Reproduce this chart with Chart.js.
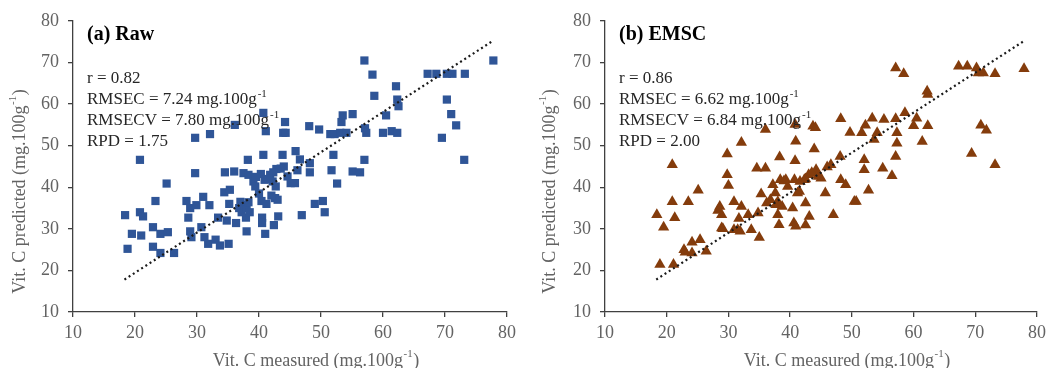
<!DOCTYPE html>
<html>
<head>
<meta charset="utf-8">
<script src="https://cdn.jsdelivr.net/npm/chart.js@4"></script>
<style>
  html, body { margin: 0; padding: 0; background: #fff; }
  #wrap { position: relative; width: 1051px; height: 368px; overflow: hidden; }
  .panel { position: absolute; top: 0; height: 368px; }
  #left { left: 0; width: 525px; }
  #right { left: 530px; width: 521px; }
</style>
</head>
<body>
<div id="wrap">
  <div class="panel" id="left"><canvas id="rawChart"></canvas></div>
  <div class="panel" id="right"><canvas id="emscChart"></canvas></div>
</div>
<script>
// measured vs predicted
const rawMeasured = [18.4, 18.8, 19.5, 20.8, 20.8, 21.3, 21.0, 22.9, 22.9, 23.3, 24.1, 24.1, 25.3, 25.1, 26.3,
  28.3, 28.6, 28.9, 28.9, 29.1, 29.7, 29.7, 29.9, 30.7, 31.0, 31.2, 31.8, 32.0, 32.1, 33.0, 33.4, 33.7,
  34.4, 34.5, 34.8, 35.1, 35.2, 35.3, 36.0, 36.1, 36.3, 36.8, 37.2, 37.5, 37.7, 38.0, 37.9, 38.0, 38.2,
  38.3, 38.3, 38.5, 39.1, 39.4, 40.3, 40.4, 40.5, 40.5, 40.7, 40.7, 40.9, 41.0, 41.1, 41.2, 41.8, 42.2,
  42.4, 42.6, 42.7, 42.8, 43.1, 43.0, 43.8, 43.9, 44.2, 44.3, 44.0, 44.6, 45.1, 45.9, 45.8, 46.2, 46.6,
  46.9, 48.1, 48.2, 48.2, 49.0, 49.7, 50.3, 50.6, 51.5, 51.7, 52.0, 52.2, 52.6, 53.1, 53.3, 53.5, 54.1,
  55.1, 55.1, 56.3, 57.0, 57.0, 57.1, 57.3, 58.3, 58.6, 60.0, 60.5, 61.4, 62.1, 62.3, 62.5, 62.3, 67.2,
  68.6, 70.3, 71.2, 73.2, 70.3, 71.0, 71.8, 69.5, 73.1, 77.8, 39.5, 40.0, 42.0, 43.5, 37.0, 42.3, 41.5];
const rawPredicted = [33.3, 25.2, 28.8, 46.6, 34.0, 33.0, 28.4, 30.4, 25.7, 36.7, 28.8, 24.2, 29.2, 40.9, 24.2,
  36.7, 32.7, 35.0, 29.4, 28.0, 51.9, 43.4, 35.7, 30.4, 37.7, 28.0, 26.4, 35.7, 52.8, 27.4, 32.7, 26.0,
  38.8, 43.6, 32.0, 26.4, 36.0, 39.4, 43.8, 55.0, 31.4, 35.0, 34.0, 43.4, 35.7, 35.0, 32.7, 29.4, 46.6,
  43.0, 36.4, 34.0, 41.4, 40.2, 43.2, 36.7, 32.7, 31.4, 57.9, 47.8, 41.8, 28.8, 53.5, 36.0, 43.0, 41.4,
  30.9, 37.4, 40.2, 44.4, 33.0, 37.0, 47.8, 53.1, 55.7, 53.1, 45.0, 42.6, 41.0, 48.7, 41.0, 44.1, 46.7,
  33.3, 54.7, 45.8, 43.6, 36.0, 53.9, 36.7, 34.0, 52.8, 44.1, 47.8, 52.8, 40.9, 53.1, 55.7, 57.3, 53.1,
  57.6, 43.8, 43.6, 70.5, 46.6, 54.2, 53.1, 67.1, 62.0, 53.1, 57.3, 53.5, 64.3, 61.1, 59.5, 53.1, 67.3,
  67.3, 67.3, 67.3, 67.3, 61.1, 57.6, 54.9, 51.9, 46.6, 70.5, 42.5, 38.5, 38.0, 44.5, 36.5, 43.6, 42.0];

const emscMeasured = [18.4, 18.9, 19.5, 20.9, 20.9, 21.1, 21.3, 22.8, 23.0, 23.5, 24.1, 24.1, 25.1, 25.4, 26.4,
  28.3, 28.6, 28.9, 28.9, 29.1, 29.8, 29.8, 30.0, 30.9, 30.9, 31.5, 31.7, 31.9, 32.1, 32.1, 33.2, 33.7,
  34.6, 34.8, 35.0, 35.3, 36.0, 36.0, 36.2, 36.8, 37.2, 37.6, 37.7, 38.0, 38.2, 38.3, 38.4, 38.7, 39.3,
  39.6, 40.4, 40.6, 40.7, 40.8, 40.8, 40.9, 40.9, 41.2, 41.6, 42.3, 42.5, 42.5, 43.0, 43.1, 43.7, 43.9,
  44.1, 44.2, 44.6, 45.0, 45.7, 46.0, 46.6, 47.0, 48.1, 48.2, 48.2, 49.0, 49.7, 50.4, 50.7, 51.6, 52.0,
  52.0, 52.2, 52.7, 53.3, 53.6, 54.1, 55.0, 55.2, 56.5, 57.1, 57.1, 57.1, 57.3, 57.3, 58.4, 58.6, 60.0,
  60.5, 61.4, 62.2, 62.3, 62.3, 67.3, 68.7, 70.2, 70.5, 71.3, 73.2, 69.4, 70.9, 71.8, 73.2, 77.9,
  39.0, 41.5, 42.5, 43.5, 38.0, 44.5];
const emscPredicted = [33.4, 21.4, 30.4, 45.4, 36.5, 21.4, 32.7, 25.0, 24.4, 36.5, 26.8, 24.2, 39.3, 27.4, 24.6,
  34.4, 35.4, 33.4, 30.2, 30.0, 48.0, 43.0, 40.4, 36.5, 29.8, 29.8, 32.5, 29.4, 35.4, 50.8, 33.4, 29.8,
  44.6, 33.8, 27.9, 38.4, 44.6, 53.9, 36.2, 37.0, 40.6, 38.6, 35.8, 33.4, 31.0, 47.3, 41.8, 35.4, 41.8,
  40.2, 35.0, 31.4, 41.8, 46.4, 55.1, 30.6, 51.1, 38.6, 41.4, 41.8, 36.2, 30.9, 43.0, 33.0, 54.7, 49.2,
  54.3, 44.2, 42.6, 42.2, 38.6, 44.9, 45.4, 33.4, 47.4, 56.5, 41.8, 40.6, 53.2, 36.6, 36.6, 53.1, 46.6,
  44.2, 54.9, 39.3, 56.6, 51.5, 53.1, 44.6, 56.3, 42.8, 68.7, 56.5, 47.4, 53.1, 50.6, 67.3, 57.9, 54.8,
  56.6, 51.0, 63.1, 62.3, 54.8, 69.1, 69.1, 68.7, 67.5, 67.5, 67.3, 48.1, 54.9, 53.7, 45.4, 68.5,
  41.5, 39.0, 42.0, 43.5, 36.5, 43.0];

// dotted trend line end points (measured, predicted)
const rawTrendX = [18.3, 77.8];
const rawTrendY = [17.8, 75.3];
const emscTrendX = [18.3, 77.9];
const emscTrendY = [17.8, 75.2];

const axisTicks = [10, 20, 30, 40, 50, 60, 70, 80];

const rawStats = ['0.82', '7.24', '7.80', '1.75'];
const emscStats = ['0.86', '6.62', '6.84', '2.00'];

const SERIF = "'Liberation Serif', 'Times New Roman', serif";
const GREY = '#636363';

function toPoints(xs, ys) {
  return xs.map((x, i) => ({ x: x, y: ys[i] }));
}

// text with a "-1" superscript after `main`, then `tail`, centred on (0,0)
function supText(ctx, main, tail, size) {
  ctx.font = size + 'px ' + SERIF;
  const w1 = ctx.measureText(main).width;
  const w3 = ctx.measureText(tail).width;
  ctx.font = Math.round(size * 0.62) + 'px ' + SERIF;
  const w2 = ctx.measureText('-1').width;
  let x = -(w1 + w2 + w3 + 1) / 2;
  ctx.font = size + 'px ' + SERIF;
  ctx.fillText(main, x, 0);
  x += w1;
  ctx.font = Math.round(size * 0.62) + 'px ' + SERIF;
  ctx.fillText('-1', x + 0.5, -size * 0.36);
  x += w2 + 1;
  ctx.font = size + 'px ' + SERIF;
  ctx.fillText(tail, x, 0);
}

// panel label, statistics block and the two axis titles
const statsBox = {
  id: 'statsBox',
  afterDraw(chart, args, opts) {
    const ctx = chart.ctx;
    const area = chart.chartArea;
    const left = area.left + 14;
    const top = area.top;
    ctx.save();
    ctx.textBaseline = 'middle';
    ctx.textAlign = 'left';
    ctx.fillStyle = '#000';
    ctx.font = 'bold 20px ' + SERIF;
    ctx.fillText(opts.title, left, top + 14);

    const s = opts.stats;
    const lines = [
      ['r = ' + s[0], ''],
      ['RMSEC = ' + s[1] + ' mg.100g', '-1'],
      ['RMSECV = ' + s[2] + ' mg.100g', '-1'],
      ['RPD = ' + s[3], '']
    ];
    ctx.fillStyle = '#262626';
    lines.forEach((ln, i) => {
      const y = top + 58 + i * 21;
      ctx.font = '17px ' + SERIF;
      ctx.fillText(ln[0], left, y);
      if (ln[1]) {
        const w = ctx.measureText(ln[0]).width;
        ctx.font = '11px ' + SERIF;
        ctx.fillText(ln[1], left + w + 1, y - 6);
      }
    });

    // axis titles (Excel places them off-centre)
    ctx.fillStyle = GREY;
    ctx.save();
    ctx.translate((area.left + area.right) / 2 + 26, 361);
    supText(ctx, 'Vit. C measured (mg.100g', ')', 18);
    ctx.restore();
    ctx.save();
    ctx.translate(20, (area.top + area.bottom) / 2 + 25);
    ctx.rotate(-Math.PI / 2);
    supText(ctx, 'Vit. C predicted (mg.100g', ')', 18);
    ctx.restore();
    ctx.restore();
  }
};

function makeChart(id, pts, trend, color, style, radius, title, stats) {
  return new Chart(document.getElementById(id), {
    type: 'scatter',
    data: {
      datasets: [
        {
          data: pts,
          pointStyle: style,
          pointRadius: radius,
          pointHoverRadius: radius,
          backgroundColor: color,
          borderColor: color,
          borderWidth: 0,
          order: 2
        },
        {
          type: 'line',
          data: trend,
          showLine: true,
          borderColor: '#1a1a1a',
          borderWidth: 2.2,
          borderDash: [2, 3],
          pointRadius: 0,
          fill: false,
          order: 1
        }
      ]
    },
    options: {
      responsive: true,
      maintainAspectRatio: false,
      animation: false,
      layout: { padding: { top: 21, right: id === 'rawChart' ? 18 : 12, bottom: 0, left: 0 } },
      plugins: {
        legend: { display: false },
        tooltip: { enabled: false },
        statsBox: { title: title, stats: stats }
      },
      scales: {
        x: {
          type: 'linear',
          min: 10, max: 80,
          afterBuildTicks: s => { s.ticks = axisTicks.map(v => ({ value: v })); },
          afterFit: s => { s.height = 56; },
          grid: { drawOnChartArea: false, drawTicks: true, tickLength: 5, color: '#404040', lineWidth: 1.3 },
          border: { color: '#404040', width: 1.3 },
          ticks: { color: GREY, font: { family: SERIF, size: 18 }, padding: 5 }
        },
        y: {
          type: 'linear',
          min: 10, max: 80,
          afterBuildTicks: s => { s.ticks = axisTicks.map(v => ({ value: v })); },
          afterFit: s => { s.width = id === 'rawChart' ? 73 : 75; },
          grid: { drawOnChartArea: false, drawTicks: true, tickLength: 5, color: '#404040', lineWidth: 1.3 },
          border: { color: '#404040', width: 1.3 },
          ticks: { color: GREY, font: { family: SERIF, size: 18 }, padding: 9 }
        }
      }
    },
    plugins: [statsBox]
  });
}

makeChart('rawChart', toPoints(rawMeasured, rawPredicted), toPoints(rawTrendX, rawTrendY),
  '#2f5597', 'rect', 5.8, '(a) Raw', rawStats);
makeChart('emscChart', toPoints(emscMeasured, emscPredicted), toPoints(emscTrendX, emscTrendY),
  '#843c0c', 'triangle', 6.5, '(b) EMSC', emscStats);
</script>
</body>
</html>
